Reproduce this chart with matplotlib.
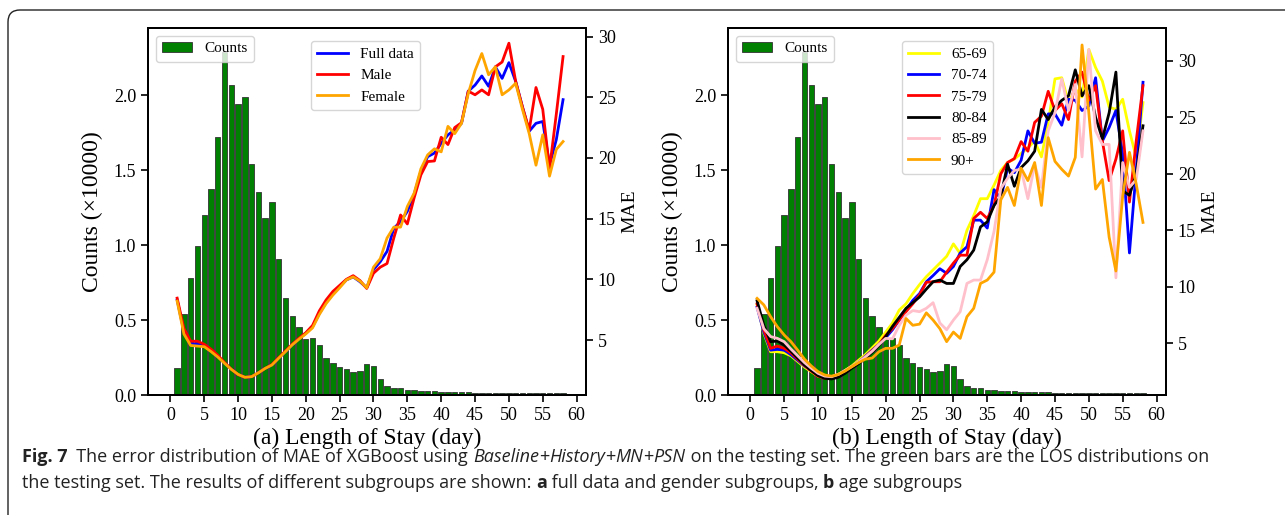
import matplotlib
matplotlib.use("Agg")
import matplotlib.pyplot as plt
from matplotlib.patches import FancyBboxPatch
from matplotlib.transforms import IdentityTransform
from matplotlib.offsetbox import TextArea, HPacker, AnchoredOffsetbox
from matplotlib.font_manager import FontProperties

plt.rcParams['font.family'] = ['Liberation Serif', 'DejaVu Serif']

# --- data: length of stay (days) and test-set counts (x10000) ---
days = list(range(1, 59))
counts = [0.18, 0.54, 0.78, 0.995, 1.20, 1.375, 1.72, 2.29, 2.07, 1.94,
          1.99, 1.54, 1.355, 1.18, 1.29, 0.91, 0.65, 0.527, 0.455, 0.373,
          0.378, 0.333, 0.25, 0.215, 0.185, 0.173, 0.153, 0.16, 0.207, 0.196,
          0.107, 0.06, 0.049, 0.044, 0.036, 0.033, 0.029, 0.026, 0.024, 0.022,
          0.02, 0.019, 0.018, 0.017, 0.016, 0.015, 0.014, 0.014, 0.013, 0.013,
          0.012, 0.012, 0.013, 0.012, 0.013, 0.016, 0.016, 0.012]

# --- (a) MAE: full data and gender subgroups ---
mae_full = [8.3, 5.7, 4.7, 4.7, 4.5, 4.15, 3.65, 3.1, 2.6, 2.15,
            1.93, 1.98, 2.3, 2.66, 2.95, 3.5, 4.05, 4.6, 5.1, 5.55,
            6.1, 7.2, 8.1, 8.8, 9.4, 9.95, 10.2, 9.8, 9.3, 10.8,
            11.45, 12.3, 14.2, 14.75, 15.6, 17.0, 18.9, 20.1, 20.4, 21.2,
            21.9, 22.3, 22.85, 25.5, 26.0, 26.75, 25.9, 27.5, 26.55, 27.85,
            26.3, 24.2, 22.2, 22.85, 23.0, 19.4, 21.5, 24.8]
mae_male = [8.45, 5.95, 4.9, 4.9, 4.65, 4.25, 3.75, 3.15, 2.6, 2.15,
            1.93, 1.98, 2.3, 2.66, 2.98, 3.55, 4.1, 4.65, 5.15, 5.6,
            6.2, 7.4, 8.3, 9.0, 9.5, 10.0, 10.3, 9.9, 9.25, 10.5,
            11.0, 11.3, 13.4, 15.3, 14.56, 16.7, 18.6, 19.7, 19.75, 21.7,
            21.1, 22.5, 22.9, 25.5, 25.2, 25.6, 25.2, 27.5, 27.9, 29.45,
            26.3, 24.2, 22.3, 25.8, 24.0, 19.1, 23.6, 28.35]
mae_female = [8.2, 5.5, 4.55, 4.5, 4.45, 4.05, 3.6, 3.08, 2.58, 2.17,
              1.93, 1.98, 2.3, 2.66, 2.94, 3.5, 4.04, 4.6, 5.07, 5.5,
              6.0, 7.1, 8.0, 8.7, 9.3, 9.95, 10.2, 9.85, 9.3, 11.0,
              11.7, 13.4, 14.3, 14.3, 16.0, 17.1, 19.1, 20.25, 20.75, 20.5,
              22.6, 22.0, 22.85, 25.3, 27.2, 28.6, 26.85, 27.5, 25.2, 25.6,
              26.15, 24.0, 22.0, 19.4, 21.9, 18.5, 20.7, 21.35]

# --- (b) MAE: age subgroups ---
mae_65_69 = [8.4, 5.9, 4.26, 4.26, 4.17, 3.9, 3.4, 2.9, 2.5, 2.1,
             1.95, 2.0, 2.25, 2.6, 3.0, 3.5, 4.0, 4.6, 5.2, 6.0,
             6.8, 7.95, 8.5, 9.4, 10.2, 10.9, 11.5, 12.1, 12.7, 13.8,
             12.95, 15.0, 16.3, 17.8, 17.8, 19.0, 20.3, 21.0, 21.3, 21.8,
             22.3, 22.9, 21.5, 24.5, 28.4, 28.5, 26.3, 27.5, 26.8, 31.0,
             29.4, 28.2, 25.9, 25.7, 26.6, 23.8, 21.45, 26.3]
mae_70_74 = [8.2, 6.0, 4.4, 4.47, 4.4, 4.0, 3.5, 3.0, 2.6, 2.2,
             2.0, 2.0, 2.2, 2.55, 2.9, 3.35, 3.85, 4.4, 4.9, 5.5,
             6.2, 7.06, 7.95, 8.8, 9.4, 10.45, 11.0, 11.6, 11.2, 11.8,
             13.0, 13.55, 15.9, 15.9, 15.2, 18.6, 17.8, 20.5, 20.1, 21.2,
             23.8, 22.7, 22.8, 25.3, 25.3, 24.3, 26.6, 26.5, 25.6, 26.0,
             28.5, 22.9, 24.1, 25.6, 21.75, 13.0, 20.3, 28.1]
mae_75_79 = [8.5, 6.2, 4.56, 4.76, 4.56, 4.15, 3.6, 3.05, 2.55, 2.1,
             1.9, 1.9, 2.1, 2.5, 2.9, 3.3, 3.8, 4.35, 4.9, 5.7,
             6.3, 7.06, 7.8, 8.5, 9.3, 10.4, 10.45, 10.45, 11.3, 12.1,
             12.8, 12.8, 16.05, 16.6, 16.05, 17.2, 20.0, 21.0, 21.35, 22.85,
             22.0, 24.55, 25.1, 27.3, 25.6, 26.2, 24.8, 28.2, 29.0, 26.5,
             27.8, 22.9, 19.4, 21.3, 23.8, 17.5, 22.9, 27.8]
mae_80_84 = [8.77, 6.6, 5.15, 5.2, 4.85, 4.3, 3.7, 3.1, 2.6, 2.15,
             1.9, 1.85, 2.0, 2.35, 2.8, 3.2, 3.7, 4.2, 4.8, 5.6,
             6.5, 7.3, 8.1, 8.6, 9.1, 9.8, 10.45, 10.6, 10.3, 10.3,
             11.8, 12.4, 13.25, 15.3, 15.75, 17.2, 18.0, 20.85, 18.9, 20.55,
             21.15, 22.0, 25.7, 24.8, 25.9, 26.5, 26.9, 29.2, 26.9, 27.8,
             25.0, 23.1, 25.4, 29.0, 18.5, 18.1, 20.0, 24.25]
mae_85_89 = [8.1, 6.3, 5.6, 5.44, 5.15, 4.5, 3.9, 3.3, 2.8, 2.35,
             2.1, 2.05, 2.25, 2.6, 2.95, 3.35, 3.8, 4.3, 4.9, 5.44,
             5.4, 6.6, 7.5, 7.9, 7.8, 8.1, 8.6, 6.8, 6.2, 7.06,
             7.8, 10.3, 10.6, 10.6, 12.4, 14.9, 18.7, 19.6, 20.3, 20.4,
             17.8, 20.8, 18.8, 23.8, 25.4, 28.4, 25.6, 27.9, 21.5, 31.0,
             23.8, 22.6, 22.6, 10.8, 21.0, 18.8, 19.5, 23.8]
mae_90p = [8.98, 8.4, 7.36, 6.47, 5.74, 5.15, 4.4, 3.6, 3.0, 2.5,
           2.2, 2.1, 2.25, 2.55, 2.94, 3.3, 3.6, 3.7, 4.26, 4.56,
           4.56, 4.85, 7.2, 6.6, 6.7, 7.7, 7.06, 6.3, 5.15, 6.0,
           5.44, 7.36, 8.1, 10.3, 10.6, 11.3, 17.7, 18.8, 17.2, 20.5,
           19.4, 21.0, 17.2, 23.2, 21.1, 20.4, 19.8, 21.45, 31.4, 25.4,
           18.65, 19.5, 14.4, 11.4, 18.0, 21.9, 19.1, 15.7]

labels_a = ['Full data', 'Male', 'Female']
colors_a = ['blue', 'red', 'orange']
series_a = [mae_full, mae_male, mae_female]

labels_b = ['65-69', '70-74', '75-79', '80-84', '85-89', '90+']
colors_b = ['yellow', 'blue', 'red', 'black', 'pink', 'orange']
series_b = [mae_65_69, mae_70_74, mae_75_79, mae_80_84, mae_85_89, mae_90p]

fig = plt.figure(figsize=(12.85, 5.15), dpi=100)

# outer frame with rounded corner
frame = FancyBboxPatch((8, -40), 1400, 545, boxstyle="round,pad=0,rounding_size=12",
                       transform=IdentityTransform(), fill=False, lw=1.0, ec='#222222')
fig.add_artist(frame)


def draw_panel(rect, series, labels, colors, xlabel, mae_ylim, leg_x):
    ax = fig.add_axes(rect)
    ax.bar(days, counts, width=0.8, color='green', edgecolor='#333333', linewidth=0.6,
           label='Counts')
    ax.set_xlim(-3.3, 61.4)
    ax.set_ylim(0, 2.447)
    ax.set_xticks(range(0, 61, 5))
    ax.set_yticks([0.0, 0.5, 1.0, 1.5, 2.0])
    ax.set_xlabel(xlabel, fontsize=17, labelpad=3)
    ax.set_ylabel('Counts (×10000)', fontsize=17, labelpad=8)
    ax.tick_params(labelsize=13, width=1.2, length=5)
    for s in ax.spines.values():
        s.set_linewidth(1.4)
    ax.legend(loc='upper left', fontsize=11, handlelength=2.0)

    ax2 = ax.twinx()
    for vals, lab, c in zip(series, labels, colors):
        ax2.plot(days, vals, color=c, lw=2.0, label=lab)
    ax2.set_ylim(*mae_ylim)
    ax2.set_yticks([5, 10, 15, 20, 25, 30])
    ax2.set_ylabel('MAE', fontsize=14, labelpad=4)
    ax2.tick_params(labelsize=13, width=1.2, length=5)
    for s in ax2.spines.values():
        s.set_linewidth(1.4)
    ax2.legend(loc='upper left', bbox_to_anchor=(leg_x, 0.985), fontsize=11,
               handlelength=2.0)
    return ax, ax2


draw_panel([0.1152, 0.2330, 0.3409, 0.7126], series_a, labels_a, colors_a,
           '(a) Length of Stay (day)', (0.47, 30.7), 0.355)
draw_panel([0.5665, 0.2330, 0.3409, 0.7126], series_b, labels_b, colors_b,
           '(b) Length of Stay (day)', (0.43, 32.9), 0.38)

# caption with mixed styles
cap_fam = ['Liberation Sans Narrow', 'Open Sans', 'DejaVu Sans']
cap_size = 13
reg = FontProperties(family=cap_fam, size=cap_size)
ital = FontProperties(family=cap_fam, size=cap_size, style='italic')
bold = FontProperties(family=cap_fam, size=cap_size, weight='bold')
col = '#222222'

line1 = [("Fig. 7", bold), ("  The error distribution of MAE of XGBoost using ", reg),
         ("Baseline", ital), ("+", reg), ("History", ital), ("+", reg), ("MN", ital),
         ("+", reg), ("PSN", ital),
         (" on the testing set. The green bars are the LOS distributions on", reg)]
line2 = [("the testing set. The results of different subgroups are shown: ", reg),
         ("a", bold), (" full data and gender subgroups, ", reg), ("b", bold),
         (" age subgroups", reg)]

for parts, ytop in [(line1, 0.13), (line2, 0.08)]:
    boxes = [TextArea(t, textprops=dict(fontproperties=fp, color=col)) for t, fp in parts]
    pack = HPacker(children=boxes, align='baseline', pad=0, sep=0)
    anch = AnchoredOffsetbox(loc='upper left', child=pack, pad=0, borderpad=0, frameon=False,
                             bbox_to_anchor=(0.017, ytop), bbox_transform=fig.transFigure)
    fig.add_artist(anch)

fig.savefig('out.png', dpi=100)
